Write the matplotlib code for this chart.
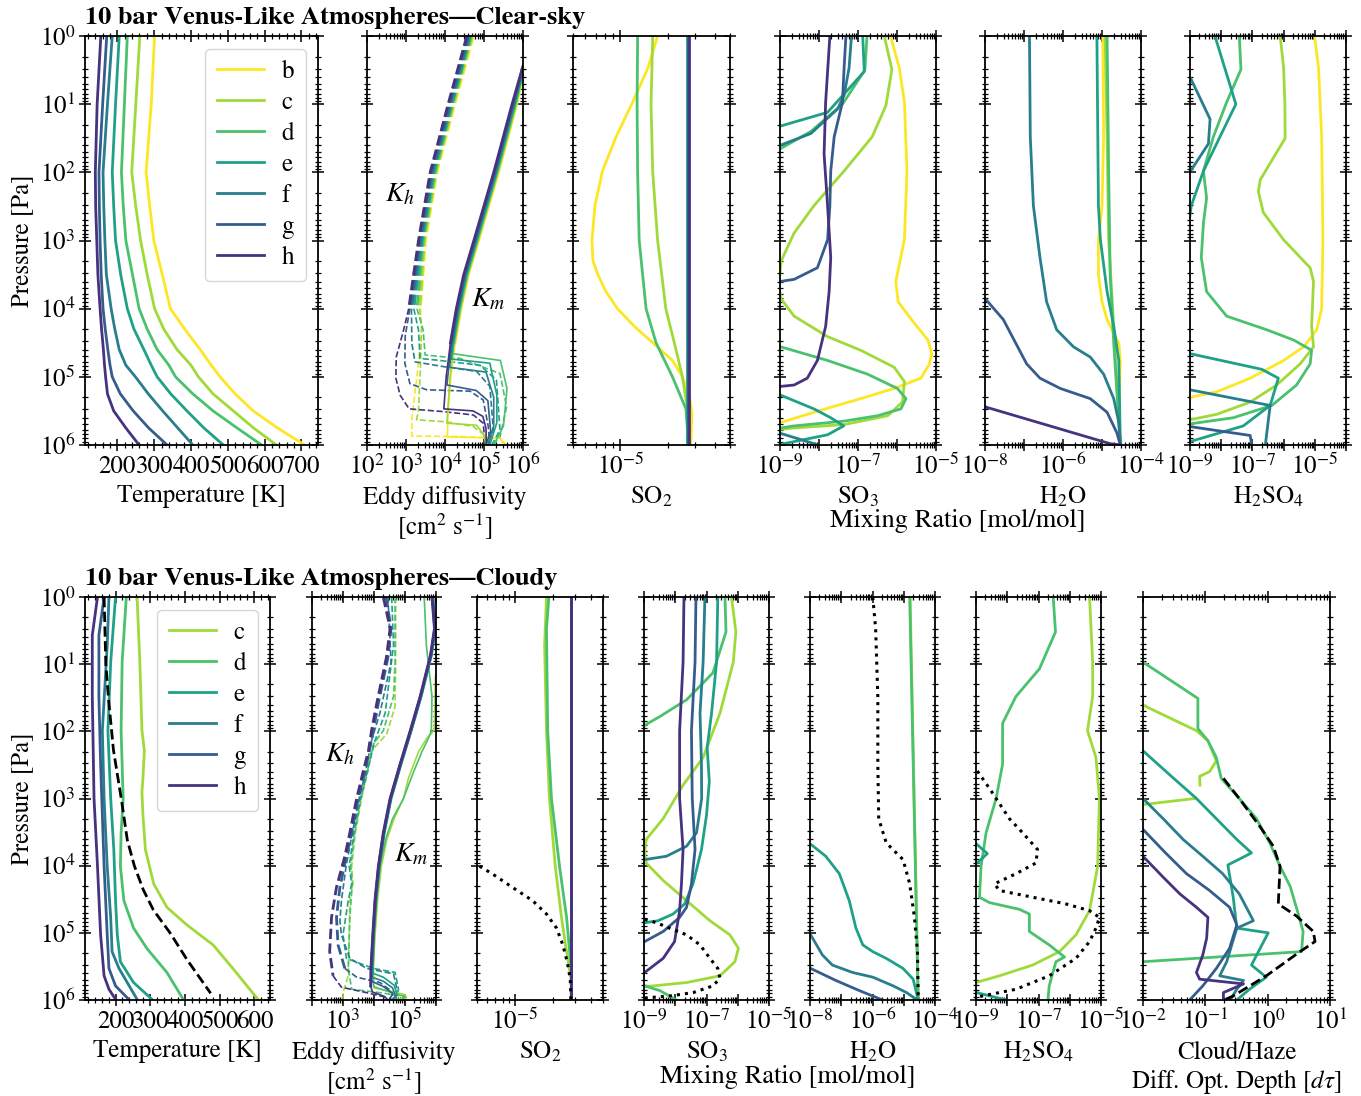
import matplotlib.pyplot as plt
from matplotlib.ticker import AutoMinorLocator, LogLocator, NullFormatter
import numpy as np

plt.rcParams['font.family'] = 'STIXGeneral'
plt.rcParams['mathtext.fontset'] = 'stix'
plt.rcParams['font.size'] = 18

planets = ['b', 'c', 'd', 'e', 'f', 'g', 'h']
vir = plt.cm.viridis(np.linspace(0, 1, 8))
colors = {p: vir[7 - i] for i, p in enumerate(planets)}

# ---------------- Clear-sky data (pressures as log10 P [Pa]) ----------------
temp_lp = [0, 1, 2, 2.5, 3, 3.5, 4, 4.3, 4.6, 4.83, 5, 5.25, 5.5, 5.75, 6]
temp_clear = {
    'b': [301, 292, 278, 288, 299, 322, 344, 383, 425, 455, 479, 520, 569, 635, 709],
    'c': [261, 250, 239, 250, 263, 281, 301, 326, 362, 400, 420, 460, 515, 570, 632],
    'd': [227, 219, 211, 216, 223, 241, 259, 281, 308, 340, 358, 405, 460, 525, 592],
    'e': [205, 195, 186, 190, 195, 209, 227, 245, 272, 292, 308, 345, 389, 435, 488],
    'f': [186, 173, 161, 163, 166, 170, 183, 193, 205, 223, 249, 284, 323, 364, 405],
    'g': [171, 160, 150, 151, 153, 156, 161, 167, 174, 180, 186, 208, 243, 285, 335],
    'h': [155, 145, 140, 141, 144, 147, 153, 157, 162, 165, 168, 173, 190, 223, 259],
}

km_clear_lp = {
    'b': [0, 0.56, 1, 2, 3, 3.5, 4, 4.5, 5, 5.5, 5.88, 5.9, 5.97, 6.0],
    'c': [0, 0.54, 1, 2, 3, 3.5, 4, 4.5, 5, 5.68, 5.71, 5.85, 6.0],
    'd': [0, 0.52, 1, 2, 3, 3.5, 4, 4.5, 4.66, 4.76, 5.17, 5.72, 6.0],
    'e': [0, 0.50, 1, 2, 3, 3.5, 4, 4.5, 4.74, 4.8, 5.27, 5.67, 6.0],
    'f': [0, 0.48, 1, 2, 3, 3.5, 4, 4.5, 4.86, 4.93, 5.3, 5.72, 6.0],
    'g': [0, 0.46, 1, 2, 3, 3.5, 4, 4.5, 5.12, 5.2, 5.35, 5.8, 6.0],
    'h': [0, 0.44, 1, 2, 3, 3.5, 4, 4.5, 5, 5.47, 5.50, 5.58, 5.75, 6.0],
}
km_clear = {  # log10 K [cm2/s]
    'b': [6.47, 6.0, 5.84, 5.37, 4.86, 4.60, 4.41, 4.26, 4.15, 4.08, 4.06, 5.4, 5.5, 5.5],
    'c': [6.45, 6.0, 5.82, 5.35, 4.84, 4.58, 4.39, 4.24, 4.13, 4.05, 4.81, 5.0, 5.05],
    'd': [6.43, 6.0, 5.80, 5.33, 4.82, 4.56, 4.37, 4.22, 4.20, 5.42, 5.59, 5.50, 5.25],
    'e': [6.41, 6.0, 5.78, 5.31, 4.80, 4.54, 4.35, 4.20, 4.17, 5.15, 5.33, 5.33, 5.15],
    'f': [6.39, 6.0, 5.76, 5.29, 4.78, 4.52, 4.33, 4.18, 4.12, 5.05, 5.25, 5.25, 5.1],
    'g': [6.37, 6.0, 5.74, 5.27, 4.76, 4.50, 4.31, 4.16, 4.05, 4.8, 5.1, 5.17, 5.05],
    'h': [6.35, 6.0, 5.72, 5.25, 4.74, 4.48, 4.29, 4.14, 4.03, 3.97, 4.72, 4.97, 5.05, 5.06],
}
kh_clear_lp = {
    'b': [0, 1, 2, 3, 4, 4.31, 5.05, 5.61, 5.87, 5.875, 5.9, 6.0],
    'c': [0, 1, 2, 3, 4, 4.31, 5.0, 5.49, 5.63, 5.66, 5.73, 5.88, 6.0],
    'd': [0, 1, 2, 3, 4, 4.31, 4.68, 4.73, 4.95, 5.44, 5.88, 6.0],
    'e': [0, 1, 2, 3, 4, 4.31, 4.73, 4.76, 4.83, 5.05, 5.78, 6.0],
    'f': [0, 1, 2, 3, 4, 4.51, 4.78, 4.85, 4.92, 5.14, 5.78, 6.0],
    'g': [0, 1, 2, 3, 4, 4.4, 4.8, 5.10, 5.19, 5.21, 5.34, 5.73, 6.0],
    'h': [0, 1, 2, 3, 4, 4.31, 4.71, 5.02, 5.27, 5.47, 5.51, 5.56, 5.68, 6.0],
}
kh_clear = {
    'b': [4.73, 4.25, 3.79, 3.50, 3.37, 3.40, 3.27, 3.15, 3.15, 4.38, 5.41, 5.58],
    'c': [4.70, 4.22, 3.77, 3.47, 3.35, 3.40, 3.36, 3.32, 3.27, 4.04, 4.73, 5.07, 5.11],
    'd': [4.67, 4.19, 3.74, 3.44, 3.28, 3.44, 3.49, 4.38, 5.41, 5.58, 5.41, 5.24],
    'e': [4.65, 4.17, 3.71, 3.41, 3.20, 3.32, 3.36, 3.87, 4.90, 5.32, 5.41, 5.2],
    'f': [4.62, 4.14, 3.68, 3.38, 3.14, 3.15, 3.23, 3.96, 4.81, 5.15, 5.24, 5.1],
    'g': [4.59, 4.11, 3.65, 3.35, 3.10, 2.98, 2.97, 3.10, 3.53, 4.64, 4.98, 5.11, 5.15],
    'h': [4.56, 4.08, 3.62, 3.32, 3.07, 2.94, 2.75, 2.74, 2.85, 3.08, 3.96, 4.73, 4.98, 5.03],
}

so2_clear_lp = {
    'b': [0, .47, .97, 1.48, 1.98, 2.49, 3.0, 3.3, 3.5, 3.75, 4.0, 4.26, 4.5, 4.76, 5.0, 5.27, 5.52, 6],
    'c': [0, 1, 2, 3, 4, 4.5, 5, 5.47, 6],
    'd': [0, 1, 2, 3, 4, 4.5, 5, 5.47, 6],
    'e': [0, 6], 'f': [0, 6], 'g': [0, 6], 'h': [0, 6],
}
so2_clear = {
    'b': [1.73e-5, 1.50e-5, 1.20e-5, 9.4e-6, 7.7e-6, 6.9e-6, 6.6e-6, 6.7e-6, 7.2e-6,
          8.1e-6, 9.6e-6, 1.23e-5, 1.61e-5, 2.15e-5, 2.49e-5, 2.75e-5, 2.86e-5, 2.81e-5],
    'c': [1.61e-5, 1.57e-5, 1.61e-5, 1.73e-5, 1.95e-5, 2.21e-5, 2.49e-5, 2.68e-5, 2.72e-5],
    'd': [1.29e-5, 1.28e-5, 1.29e-5, 1.32e-5, 1.46e-5, 1.69e-5, 2.15e-5, 2.62e-5, 2.72e-5],
    'e': [2.66e-5, 2.66e-5], 'f': [2.7e-5, 2.7e-5], 'g': [2.72e-5, 2.72e-5], 'h': [2.75e-5, 2.75e-5],
}

so3_clear_lp = {
    'b': [0, .47, .97, 1.98, 2.99, 3.60, 3.90, 4.21, 4.46, 4.66, 4.81, 5.02, 5.17, 5.32, 5.52, 5.67, 5.9],
    'c': [0, .49, 1.02, 1.48, 1.98, 2.49, 2.89, 3.3, 3.65, 3.85, 4.11, 4.41, 4.61, 4.86, 5.07,
          5.37, 5.57, 5.70, 5.75, 5.77, 5.85],
    'd': [0, 0.5, 1.0, 1.4, 1.65, 1.75, 4.45, 4.56, 4.76, 4.96, 5.17, 5.32, 5.47, 5.57, 5.65, 5.72, 5.75, 5.8],
    'e': [0, 0.52, 1.12, 1.32, 1.4, 5.2, 5.27, 5.47, 5.6, 5.72, 5.85, 5.95, 6.0],
    'f': [0, .47, .87, 1.07, 1.43, 1.60, 1.7, 5.75, 5.83, 5.98, 6.0],
    'g': [0, .47, .97, 1.48, 1.98, 2.49, 2.99, 3.40, 3.57, 3.60, 3.7],
    'h': [0, .97, 1.73, 2.49, 3.25, 3.75, 4.26, 4.76, 5.02, 5.12, 5.14, 5.2],
}
so3_clear = {
    'b': [6.8e-7, 1.15e-6, 1.55e-6, 1.8e-6, 1.55e-6, 9.3e-7, 1.07e-6, 2.75e-6, 6.2e-6, 7.8e-6,
          6.8e-6, 4.1e-6, 8.5e-7, 1.17e-7, 7.4e-9, 1.05e-9, 1e-10],
    'c': [4.7e-7, 7.4e-7, 5.2e-7, 2.3e-7, 4.4e-8, 7.4e-9, 2.3e-9, 1.07e-9, 9.3e-10, 1.05e-9, 2.3e-9,
          1.66e-8, 1.17e-7, 8.5e-7, 1.55e-6, 1.38e-6, 5.8e-7, 4.4e-8, 2.3e-9, 1.05e-9, 1e-10],
    'd': [1.7e-7, 1.5e-7, 4.0e-8, 6.2e-9, 1.05e-9, 1e-10, 1e-10, 1.05e-9, 1.66e-8, 1.74e-7, 1.02e-6,
          1.7e-6, 1.26e-6, 3.2e-7, 4.4e-8, 2.3e-9, 1.05e-9, 1e-10],
    'e': [1.32e-7, 1.45e-7, 1.66e-8, 1.05e-9, 1e-10, 1e-10, 1.05e-9, 7.4e-9, 2.0e-8, 4.3e-8, 1.66e-8,
          2.3e-9, 8.5e-10],
    'f': [6.8e-8, 5.9e-8, 4.4e-8, 3.0e-8, 6.2e-9, 1.05e-9, 1e-10, 1e-10, 1.05e-9, 7.4e-9, 9.1e-9],
    'g': [4.9e-8, 4.4e-8, 4.0e-8, 2.45e-8, 2.0e-8, 1.9e-8, 1.66e-8, 9.1e-9, 2.3e-9, 1.05e-9, 1e-10],
    'h': [1.9e-8, 1.48e-8, 1.35e-8, 1.66e-8, 2.0e-8, 1.82e-8, 1.48e-8, 9.1e-9, 5.0e-9, 2.3e-9, 1.05e-9, 1e-10],
}

h2o_clear_lp = {
    'b': [0, 1.48, 2.49, 2.99, 3.5, 3.9, 4.16, 4.36, 4.51, 4.76, 5.52, 6.0],
    'c': [0, 1.48, 2.99, 4.26, 6],
    'd': [0, 1.98, 3.5, 4.51, 6],
    'e': [0, 2.49, 2.99, 3.75, 4.26, 4.76, 6.0],
    'f': [0, 1.48, 2.49, 3.25, 3.90, 4.31, 4.56, 4.71, 4.96, 5.32, 5.67, 6.0],
    'g': [3.7, 3.85, 4.16, 4.81, 5.02, 5.17, 5.32, 5.52, 5.82, 6.0],
    'h': [5.2, 5.44, 5.98, 6.0],
}
h2o_clear = {
    'b': [1.05e-5, 1.1e-5, 1.0e-5, 8.1e-6, 8.1e-6, 1.0e-5, 1.35e-5, 2.0e-5, 2.7e-5, 2.95e-5, 2.7e-5, 2.95e-5],
    'c': [1.2e-5, 1.35e-5, 1.48e-5, 2.0e-5, 2.95e-5],
    'd': [1.35e-5, 1.48e-5, 1.62e-5, 2.0e-5, 2.95e-5],
    'e': [7.4e-6, 8.1e-6, 9.1e-6, 1.35e-5, 2.0e-5, 2.7e-5, 2.95e-5],
    'f': [1.38e-7, 1.45e-7, 1.74e-7, 2.57e-7, 3.8e-7, 6.9e-7, 1.86e-6, 5.0e-6, 1.1e-5, 2.0e-5, 2.7e-5, 2.95e-5],
    'g': [1e-9, 1e-8, 2.95e-8, 1.17e-7, 2.57e-7, 8.5e-7, 5.0e-6, 1.35e-5, 2.4e-5, 2.95e-5],
    'h': [1e-9, 1e-8, 1.6e-5, 3.0e-5],
}

h2so4_clear_lp = {
    'b': [0, .47, 1.48, 2.99, 4.0, 4.31, 4.56, 4.76, 5.02, 5.22, 5.30, 5.5],
    'c': [0, .47, 1.0, 1.50, 2.11, 2.28, 2.59, 2.99, 3.40, 3.60, 4.26, 4.56, 4.81, 5.12, 5.37, 5.55, 5.63, 5.8],
    'd': [0, .49, .97, 1.48, 1.98, 2.38, 2.74, 3.25, 3.75, 4.11, 4.31, 4.46, 4.61, 4.81, 5.12, 5.42, 5.6, 5.69, 5.8],
    'e': [0, 1.0, 1.48, 1.98, 2.49, 2.7, 2.8, 4.6, 4.66, 4.89, 5.02, 5.42, 5.72, 5.95, 6.0],
    'f': [0.5, 0.62, 1.22, 1.58, 1.96, 2.1, 5.1, 5.19, 5.42, 6.0],
    'g': [5.6, 5.73, 5.86, 6.0],
}
h2so4_clear = {
    'b': [9.8e-6, 1.32e-5, 1.66e-5, 1.82e-5, 1.66e-5, 1.15e-5, 4.4e-6, 1.0e-6, 8.5e-8, 7.2e-9, 1.0e-9, 1e-10],
    'c': [7.8e-7, 1.0e-6, 1.1e-6, 1.12e-6, 1.78e-7, 1.55e-7, 2.24e-7, 1.0e-6, 7.1e-6, 9.1e-6, 7.9e-6,
          9.1e-6, 3.4e-6, 6.0e-7, 8.5e-8, 7.2e-9, 1.0e-9, 1e-10],
    'd': [3.8e-8, 4.3e-8, 1.5e-8, 5.6e-9, 2.7e-9, 3.4e-9, 2.7e-9, 2.3e-9, 3.4e-9, 1.5e-8, 2.9e-7, 2.1e-6,
          7.9e-6, 7.1e-6, 2.6e-6, 4.2e-7, 2.45e-8, 1.0e-9, 1e-10],
    'e': [6.3e-9, 2.95e-8, 9.1e-9, 2.7e-9, 1.1e-9, 9.5e-10, 1e-10, 1e-10, 1e-9, 2.0e-7, 6.8e-7, 3.7e-7,
          5.1e-8, 1e-9, 3e-10],
    'f': [1e-10, 1.05e-9, 4.4e-9, 3.9e-9, 1.12e-9, 1e-10, 1e-10, 1e-9, 3.7e-7, 2.6e-7],
    'g': [1e-10, 1e-9, 8.5e-8, 9.5e-8],
}

# ---------------- Cloudy data ----------------
temp_cloudy_lp = {
    'c': [0, .97, 1.98, 2.29, 2.70, 2.90, 3.25, 3.76, 4.27, 4.62, 4.88, 5.18, 5.53, 5.99],
    'd': [0, .97, 1.99, 3.0, 3.51, 4.01, 4.52, 4.93, 5.23, 5.59, 5.99],
    'e': [0, .97, 1.99, 3.0, 3.76, 4.52, 5.03, 5.43, 5.74, 5.99],
    'f': [0, .72, 1.99, 3.0, 4.01, 4.77, 5.28, 5.53, 5.99],
    'g': [0, .57, 1.48, 2.49, 4.01, 5.03, 5.53, 5.79, 5.99],
    'h': [0, .57, 1.48, 3.0, 4.01, 5.03, 5.64, 5.84, 5.99],
}
temp_cloudy = {
    'c': [262, 270, 276, 283, 279, 276, 279, 286, 310, 348, 405, 481, 538, 610],
    'd': [231, 219, 216, 222, 216, 214, 224, 252, 290, 348, 395],
    'e': [200, 186, 178, 186, 195, 200, 205, 214, 252, 305],
    'f': [181, 176, 162, 167, 176, 186, 190, 210, 262],
    'g': [167, 152, 152, 157, 167, 176, 181, 200, 238],
    'h': [148, 133, 133, 138, 148, 157, 167, 181, 200],
}
temp_ref_lp = [0, 1.0, 1.53, 2.28, 3.02, 3.62, 4.0, 4.36, 4.66, 5.0, 5.4, 5.9]
temp_ref = [167, 172, 180, 194, 217, 234, 254, 280, 309, 357, 406, 474]

km_cloudy_lp = {
    'c': [0, 1.0, 1.17, 1.98, 2.1, 2.3, 2.7, 3.0, 3.3, 3.6, 4.0, 4.5, 5.0, 5.5, 5.82, 5.92, 5.97, 6.0],
    'd': [0, .72, 1.48, 1.99, 2.1, 2.3, 2.6, 3.0, 3.3, 3.6, 4.0, 4.5, 5.0, 5.5, 5.8, 5.88, 5.95, 6.0],
    'e': [0, .47, .87, 1.48, 1.99, 2.49, 3.0, 3.51, 4.01, 4.52, 5.03, 5.6, 5.66, 5.78, 5.92, 6.0],
    'f': [0, .47, .87, 1.48, 1.99, 2.49, 3.0, 3.51, 4.01, 4.52, 5.03, 5.53, 5.66, 5.72, 5.82, 5.95, 6.0],
    'g': [0, .47, .87, 1.48, 1.99, 2.49, 3.0, 3.51, 4.01, 4.52, 5.03, 5.53, 5.72, 5.80, 5.9, 6.0],
    'h': [0, .47, .87, 1.48, 1.99, 2.49, 3.0, 3.51, 4.01, 4.52, 5.03, 5.53, 5.79, 5.88, 5.95, 6.0],
}
km_cloudy = {
    'c': [6.3, 6.2, 5.98, 5.95, 5.71, 5.44, 5.11, 4.95, 4.65, 4.42, 4.24, 4.12, 4.04, 3.98, 4.0, 5.0, 5.05, 4.6],
    'd': [5.62, 5.69, 5.87, 5.85, 5.76, 5.55, 5.28, 4.95, 4.60, 4.38, 4.20, 4.08, 4.0, 3.95, 3.98, 4.5, 5.0, 4.9],
    'e': [5.90, 5.98, 5.85, 5.52, 5.20, 4.87, 4.55, 4.33, 4.17, 4.06, 3.99, 3.95, 4.3, 4.65, 4.75, 4.6],
    'f': [5.89, 5.97, 5.84, 5.51, 5.19, 4.86, 4.54, 4.32, 4.16, 4.05, 3.98, 3.92, 3.93, 4.3, 4.6, 4.7, 4.55],
    'g': [5.88, 5.96, 5.83, 5.50, 5.18, 4.85, 4.53, 4.31, 4.15, 4.04, 3.97, 3.91, 3.92, 4.3, 4.6, 4.5],
    'h': [5.87, 5.95, 5.82, 5.49, 5.17, 4.84, 4.52, 4.30, 4.14, 4.03, 3.96, 3.90, 3.89, 3.95, 4.35, 4.45],
}
kh_cloudy_lp = {
    'c': [0, 1.0, 1.63, 2.04, 2.29, 2.6, 3.0, 3.51, 4.01, 4.27, 4.52, 5.03, 5.64, 5.89, 6.0],
    'd': [0, .97, 1.48, 1.99, 2.19, 2.6, 3.0, 3.51, 4.01, 4.27, 4.77, 5.53, 5.84, 5.89, 5.95, 6.0],
    'e': [0, .72, 1.73, 2.14, 2.6, 3.0, 3.51, 4.01, 4.27, 4.52, 5.03, 5.38, 5.53, 5.59, 5.84, 6.0],
    'f': [0, .97, 1.73, 2.14, 2.6, 3.0, 3.51, 4.01, 4.52, 4.82, 5.03, 5.38, 5.53, 5.61, 5.84, 6.0],
    'g': [0, .47, .9, 1.58, 1.99, 2.6, 3.0, 3.51, 3.86, 4.32, 4.77, 5.18, 5.53, 5.66, 5.74, 5.89, 6.0],
    'h': [0, .47, .9, 1.58, 1.99, 2.29, 2.6, 3.0, 3.51, 3.86, 4.32, 4.77, 5.28, 5.64, 5.81, 5.89, 5.95, 6.0],
}
kh_cloudy = {
    'c': [4.70, 4.70, 4.68, 4.41, 3.92, 3.78, 3.60, 3.40, 3.28, 3.32, 3.22, 3.20, 3.17, 3.0, 3.0],
    'd': [4.68, 4.68, 4.63, 4.30, 3.98, 3.80, 3.58, 3.38, 3.25, 3.30, 3.22, 3.17, 3.28, 4.19, 5.0, 4.84],
    'e': [4.57, 4.63, 4.36, 4.03, 3.78, 3.56, 3.35, 3.20, 3.28, 3.17, 3.0, 3.11, 3.98, 4.68, 4.79, 4.68],
    'f': [4.45, 4.55, 4.19, 3.92, 3.73, 3.52, 3.30, 3.10, 2.95, 2.90, 2.95, 3.22, 3.76, 4.63, 4.74, 4.63],
    'g': [4.39, 4.55, 4.45, 4.14, 3.98, 3.71, 3.49, 3.28, 3.11, 2.90, 2.79, 2.84, 3.06, 3.44, 4.19, 4.63, 4.52],
    'h': [4.30, 4.52, 4.40, 4.09, 3.92, 3.82, 3.65, 3.44, 3.22, 3.06, 2.79, 2.63, 2.57, 2.68, 2.95, 3.76, 4.30, 4.41],
}

so2_cloudy_lp = {
    'c': [0, .72, 1.99, 3.0, 4.01, 4.77, 5.28, 5.69, 6.0],
    'd': [0, .47, 1.99, 3.0, 4.01, 4.77, 5.28, 5.53, 6.0],
    'e': [0, 6], 'f': [0, 6], 'g': [0, 6], 'h': [0, 6],
}
so2_cloudy = {
    'c': [1.78e-5, 1.72e-5, 1.78e-5, 1.88e-5, 2.09e-5, 2.34e-5, 2.57e-5, 2.79e-5, 2.8e-5],
    'd': [1.86e-5, 1.78e-5, 1.82e-5, 1.95e-5, 2.26e-5, 2.57e-5, 2.72e-5, 2.8e-5, 2.8e-5],
    'e': [2.8e-5, 2.8e-5], 'f': [2.8e-5, 2.8e-5], 'g': [2.8e-5, 2.8e-5], 'h': [2.8e-5, 2.8e-5],
}
so2_ref_lp = [3.95, 4.0, 4.12, 4.32, 4.52, 4.72, 4.93, 5.18, 5.43, 5.69, 6.0]
so2_ref = [4.6e-6, 5.15e-6, 6.6e-6, 9.5e-6, 1.38e-5, 1.78e-5, 2.14e-5, 2.4e-5, 2.6e-5, 2.75e-5, 2.78e-5]

so3_cloudy_lp = {
    'c': [0, .52, .97, 1.73, 2.39, 2.80, 3.30, 3.61, 3.81, 3.96, 4.22, 4.52, 4.82, 5.03, 5.23, 5.43,
          5.64, 5.74, 5.79, 5.80, 5.85],
    'd': [0, .52, 1.13, 1.53, 1.78, 1.91, 2.0, 5.75, 5.79, 5.86, 6.0],
    'e': [0, .97, 1.73, 2.24, 2.75, 3.25, 3.76, 4.27, 4.57, 4.72, 4.82, 4.85, 4.95],
    'f': [0, .97, 1.73, 2.49, 3.0, 3.51, 3.71, 3.86, 3.91, 4.0],
    'g': [0, .97, 1.99, 3.0, 3.76, 4.27, 4.62, 4.77, 4.98, 5.13, 5.25],
    'h': [0, .97, 1.99, 3.0, 3.76, 4.27, 4.67, 5.13, 5.38, 5.59, 5.8],
}
so3_cloudy = {
    'c': [6.3e-7, 8.7e-7, 7.2e-7, 2.7e-7, 7.8e-8, 1.78e-8, 4.1e-9, 1.17e-9, 1.05e-9, 1.17e-9, 4.1e-9,
          2.3e-8, 1.29e-7, 5.6e-7, 1.05e-6, 8.1e-7, 2.7e-7, 2.3e-8, 1.95e-9, 1.05e-9, 1e-10],
    'd': [3.9e-7, 4.2e-7, 1.6e-7, 2.3e-8, 3.2e-9, 1.05e-9, 1e-10, 1e-10, 1.05e-9, 3.2e-9, 1.1e-8],
    'e': [2.3e-7, 2.1e-7, 1.45e-7, 1.05e-7, 1.23e-7, 1.0e-7, 6.9e-8, 3.7e-8, 2.0e-8, 8.5e-9, 2.8e-9, 1.05e-9, 1e-10],
    'f': [8.9e-8, 7.8e-8, 6.2e-8, 6.9e-8, 7.0e-8, 4.8e-8, 2.3e-8, 5.2e-9, 1.05e-9, 1e-10],
    'g': [4.6e-8, 4.3e-8, 3.3e-8, 3.5e-8, 4.3e-8, 3.3e-8, 2.3e-8, 1.38e-8, 4.1e-9, 1.05e-9, 1e-10],
    'h': [1.9e-8, 1.78e-8, 1.38e-8, 1.38e-8, 1.78e-8, 1.58e-8, 1.38e-8, 9.5e-9, 4.1e-9, 1.05e-9, 1e-10],
}
so3_ref_lp = [4.80, 4.85, 4.93, 5.03, 5.18, 5.38, 5.53, 5.68, 5.79, 5.89, 5.94, 5.97]
so3_ref = [1.05e-9, 2.5e-9, 6.6e-9, 2.3e-8, 6.2e-8, 1.29e-7, 2.3e-7, 2.7e-7, 1.6e-7, 3.7e-8, 6.6e-9, 1.05e-9]

h2o_cloudy_lp = {
    'c': [0, 6], 'd': [0, 6],
    'e': [3.6, 3.68, 3.86, 4.12, 4.52, 4.93, 5.18, 5.28, 5.38, 5.53, 5.69, 6.0],
    'f': [4.95, 5.03, 5.33, 5.48, 5.59, 5.66, 5.79, 5.89, 5.97, 6.0],
    'g': [5.45, 5.53, 5.71, 5.86, 6.0],
    'h': [5.9, 6.0],
}
h2o_cloudy = {
    'c': [1.6e-5, 2.9e-5], 'd': [1.55e-5, 2.9e-5],
    'e': [1e-9, 1.05e-8, 3.2e-8, 8.7e-8, 1.8e-7, 2.95e-7, 4.9e-7, 1.02e-6, 2.75e-6, 9.5e-6, 2.0e-5, 2.9e-5],
    'f': [1e-9, 1.05e-8, 2.5e-8, 5.2e-8, 2.3e-7, 1.02e-6, 4.6e-6, 1.23e-5, 2.2e-5, 2.9e-5],
    'g': [1e-9, 1.05e-8, 6.8e-8, 3.8e-7, 2.1e-6],
    'h': [1e-9, 1.1e-8],
}
h2o_ref_lp = [0, .47, 1.48, 2.49, 3.3, 3.66, 3.91, 4.27, 4.77, 5.28, 6.0]
h2o_ref = [1.02e-6, 1.26e-6, 1.48e-6, 1.48e-6, 1.58e-6, 2.75e-6, 9.5e-6, 1.55e-5, 2.2e-5, 2.75e-5, 2.9e-5]

h2so4_cloudy_lp = {
    'c': [0, .97, 1.48, 1.99, 2.39, 3.0, 4.01, 4.67, 5.03, 5.28, 5.48, 5.64, 5.74, 5.85],
    'd': [0, .52, 1.07, 1.48, 1.88, 2.49, 3.0, 3.51, 4.01, 4.47, 4.55, 4.65, 4.72, 4.98, 5.18, 5.36,
          5.43, 5.79, 6.0],
    'e': [3.6, 3.68, 3.82, 3.96, 4.05, 5.85, 5.89, 6.0],
}
h2so4_cloudy = {
    'c': [4.3e-6, 5.4e-6, 5.4e-6, 3.7e-6, 6.9e-6, 8.9e-6, 7.8e-6, 4.3e-6, 1.58e-6, 4.7e-7, 6.5e-8,
          5.6e-9, 1.0e-9, 1e-10],
    'd': [2.95e-7, 3.5e-7, 1.07e-7, 1.9e-8, 7.1e-9, 7.1e-9, 4.4e-9, 2.1e-9, 1.45e-9, 1.29e-9, 2.7e-9,
          2.45e-8, 5.1e-8, 5.1e-8, 2.2e-7, 6.8e-7, 3.6e-7, 2.2e-7, 2.0e-7],
    'e': [1e-10, 1.05e-9, 2.3e-9, 1.1e-9, 1e-10, 1e-10, 1.05e-9, 9.1e-9],
}
h2so4_ref_lp = [2.59, 2.85, 3.30, 3.51, 3.76, 3.96, 4.12, 4.27, 4.37, 4.47, 4.57, 4.67, 4.77, 4.93,
                5.13, 5.38, 5.64, 5.84, 5.94, 5.97]
h2so4_ref = [1.1e-9, 2.7e-9, 1.17e-8, 3.1e-8, 9.3e-8, 8.3e-8, 1.9e-8, 3.9e-9, 5.6e-9, 6.5e-8, 7.6e-7,
             4.3e-6, 8.9e-6, 6.9e-6, 4.3e-6, 1.58e-6, 2.2e-7, 1.9e-8, 1.6e-9, 1.0e-9]

cloud_lp = {
    'c': [1.5, 1.61, 1.99, 2.14, 2.44, 2.60, 2.67, 2.80, np.nan, 3.0, 3.09, 3.2],
    'd': [0.9, 0.97, 1.51, 1.96, 2.14, 2.39, 2.70, 3.0, 3.30, 3.66, 4.01, 4.31, 4.72, 4.98, 5.28, 5.43, 5.5],
    'e': [2.2, 2.29, 2.65, 3.0, 3.30, 3.61, 3.81, 3.99, 4.47, 4.93, 5.0, 5.48, 5.66, 5.84, 6.0],
    'f': [2.9, 3.0, 3.30, 3.61, 3.86, 4.12, 4.42, 4.82, 4.93, 5.43, 5.64, 5.71, 5.84, 6.0],
    'g': [3.4, 3.46, 3.81, 4.12, 4.37, 4.62, 4.88, 5.23, 5.53, 5.79, 6.0],
    'h': [3.8, 3.86, 4.17, 4.42, 4.62, 4.77, 5.08, 5.33, 5.59, 5.69, 5.76, 5.89, 6.0],
}
cloud_dtau = {
    'c': [5e-3, 1e-2, 0.072, 0.11, 0.15, 0.117, 0.081, 0.082, np.nan, 0.068, 1e-2, 5e-3],
    'd': [5e-3, 1e-2, 0.076, 0.076, 0.11, 0.15, 0.18, 0.35, 0.66, 1.08, 1.58, 2.3, 3.1, 3.7, 3.5, 1e-2, 5e-3],
    'e': [5e-3, 1e-2, 0.027, 0.072, 0.15, 0.32, 0.55, 0.23, 0.28, 0.32, 1.02, 0.55, 0.95, 0.51, 0.32],
    'f': [5e-3, 1e-2, 0.021, 0.044, 0.091, 0.19, 0.35, 0.59, 0.32, 0.22, 0.17, 0.41, 0.32, 0.25],
    'g': [5e-3, 1e-2, 0.023, 0.05, 0.117, 0.245, 0.32, 0.245, 0.15, 0.091, 0.056],
    'h': [5e-3, 1e-2, 0.021, 0.039, 0.072, 0.11, 0.105, 0.091, 0.072, 0.081, 0.41, 0.195, 0.195],
}
cloud_ref_lp = [2.70, 3.0, 3.41, 3.71, 4.01, 4.57, 4.75, 4.98, 5.13, 5.28, 5.64, 5.94, 6.0]
cloud_ref = [0.195, 0.35, 0.74, 1.23, 1.58, 1.48, 2.9, 5.4, 5.75, 3.3, 0.95, 0.28, 0.2]


# ---------------- layout (pixel boxes) ----------------
W, H = 1361, 1096
fig = plt.figure(figsize=(W / 100, H / 100), dpi=100)


def add_ax(x0, x1, y0, y1):
    return fig.add_axes([x0 / W, 1 - y1 / H, (x1 - x0) / W, (y1 - y0) / H])


def style(ax, first=False):
    ax.set_yscale('log')
    ax.set_ylim(1e6, 1e0)
    ax.set_yticks([10.0 ** k for k in range(7)])
    ax.yaxis.set_minor_locator(LogLocator(subs=np.arange(2, 10), numticks=20))
    ax.yaxis.set_minor_formatter(NullFormatter())
    if first:
        ax.set_yticklabels([f'$10^{{{k}}}$' for k in range(7)])
        ax.set_ylabel('Pressure [Pa]', labelpad=4)
    else:
        ax.set_yticklabels([])
    ax.tick_params(which='both', direction='inout', top=True, right=True, labelsize=18, pad=3)
    ax.tick_params(which='major', length=8, width=1.1)
    ax.tick_params(which='minor', length=4, width=0.9)
    for s in ax.spines.values():
        s.set_linewidth(1.3)


def logx(ax, lo, hi, decs, labeled):
    ax.set_xscale('log')
    ax.set_xlim(lo, hi)
    ax.set_xticks([10.0 ** d for d in decs])
    ax.set_xticklabels([f'$10^{{{d}}}$' if d in labeled else '' for d in decs])
    ax.xaxis.set_minor_locator(LogLocator(subs=np.arange(2, 10), numticks=30))
    ax.xaxis.set_minor_formatter(NullFormatter())


def draw(ax, lp, vals, **kw):
    for p in planets:
        if p not in lp:
            continue
        ax.plot(vals[p], 10 ** np.array(lp[p], dtype=float), color=colors[p], **kw)


def draw_eddy(ax, lp, vals, ls, thick_until, thick=2.0, thin=1.2):
    # thick line in the upper (radiative) part, thin below
    for p in planets:
        if p not in lp:
            continue
        y = np.array(lp[p], dtype=float)
        x = 10 ** np.array(vals[p], dtype=float)
        limit = thick_until[p] if isinstance(thick_until, dict) else thick_until
        k = int(np.sum(y <= limit))
        if k > 0:
            ax.plot(x[:k], 10 ** y[:k], color=colors[p], ls=ls, lw=thick)
        if k < len(y):
            j = max(k - 1, 0)
            ax.plot(x[j:], 10 ** y[j:], color=colors[p], ls=ls, lw=thin)


lw = 2.0
leg_kw = dict(loc='upper right', fontsize=18, handlelength=1.9, handletextpad=0.7,
              labelspacing=0.28, borderpad=0.45)

# ================= Clear-sky row =================
top = [(85, 318), (367, 523), (573, 730), (780, 936), (985, 1141), (1190, 1346)]
axs = [add_ax(a, b, 36, 445) for a, b in top]

ax = axs[0]
style(ax, first=True)
for p in planets:
    ax.plot(temp_clear[p], 10 ** np.array(temp_lp, dtype=float), color=colors[p], lw=lw, label=p)
ax.set_xlim(112, 745)
ax.set_xticks([200, 300, 400, 500, 600, 700])
ax.xaxis.set_minor_locator(AutoMinorLocator())
ax.set_xlabel('Temperature [K]')
ax.legend(**leg_kw)

ax = axs[1]
style(ax)
draw_eddy(ax, kh_clear_lp, kh_clear, '--', 4.3)
draw_eddy(ax, km_clear_lp, km_clear, '-', 4.5)
logx(ax, 1e2, 1e6, [2, 3, 4, 5, 6], [2, 3, 4, 5, 6])
ax.set_xlabel('Eddy diffusivity\n[cm$^2$ s$^{-1}$]', linespacing=1.1)
ax.text(10 ** 2.85, 10 ** 2.33, '$K_h$', fontsize=20, ha='center', va='center')
ax.text(10 ** 5.1, 10 ** 3.87, '$K_m$', fontsize=20, ha='center', va='center')

ax = axs[2]
style(ax)
draw(ax, so2_clear_lp, so2_clear, lw=lw)
logx(ax, 5e-6, 5e-5, [-5], [-5])
ax.set_xlabel('SO$_2$')

ax = axs[3]
style(ax)
draw(ax, so3_clear_lp, so3_clear, lw=lw)
logx(ax, 1e-9, 1e-5, [-9, -8, -7, -6, -5], [-9, -7, -5])
ax.set_xlabel('SO$_3$')

ax = axs[4]
style(ax)
draw(ax, h2o_clear_lp, h2o_clear, lw=lw)
logx(ax, 1e-8, 1e-4, [-8, -7, -6, -5, -4], [-8, -6, -4])
ax.set_xlabel('H$_2$O')

ax = axs[5]
style(ax)
draw(ax, h2so4_clear_lp, h2so4_clear, lw=lw)
logx(ax, 1e-9, 1e-4, [-9, -8, -7, -6, -5, -4], [-9, -7, -5])
ax.set_xlabel('H$_2$SO$_4$')

fig.text(85 / W, 1 - 18 / H, '10 bar Venus-Like Atmospheres\u2014Clear-sky',
         fontsize=19, fontweight='bold', ha='left', va='center')
fig.text(958 / W, 1 - 521 / H, 'Mixing Ratio [mol/mol]', fontsize=19, ha='center', va='center')

# ================= Cloudy row =================
bot = [(85, 270), (312, 436), (477, 603), (644, 769), (810, 935), (976, 1101), (1143, 1330)]
bxs = [add_ax(a, b, 597, 1000) for a, b in bot]

ax = bxs[0]
style(ax, first=True)
for p in planets[1:]:
    ax.plot(temp_cloudy[p], 10 ** np.array(temp_cloudy_lp[p], dtype=float), color=colors[p], lw=lw, label=p)
ax.plot(temp_ref, 10 ** np.array(temp_ref_lp), color='k', ls='--', lw=lw)
ax.set_xlim(112, 645)
ax.set_xticks([200, 300, 400, 500, 600])
ax.xaxis.set_minor_locator(AutoMinorLocator())
ax.set_xlabel('Temperature [K]')
ax.legend(**leg_kw)

ax = bxs[1]
style(ax)
draw_eddy(ax, kh_cloudy_lp, kh_cloudy, '--',
          {'c': -1, 'd': -1, 'e': -1, 'f': -1, 'g': 5.6, 'h': 5.7})
draw_eddy(ax, km_cloudy_lp, km_cloudy, '-',
          {'c': -1, 'd': -1, 'e': 5.6, 'f': 5.6, 'g': 5.6, 'h': 5.8})
logx(ax, 1e2, 1e6, [2, 3, 4, 5, 6], [3, 5])
ax.set_xlabel('Eddy diffusivity\n[cm$^2$ s$^{-1}$]', linespacing=1.1)
ax.text(10 ** 2.9, 10 ** 2.35, '$K_h$', fontsize=20, ha='center', va='center')
ax.text(10 ** 5.19, 10 ** 3.84, '$K_m$', fontsize=20, ha='center', va='center')

ax = bxs[2]
style(ax)
draw(ax, so2_cloudy_lp, so2_cloudy, lw=lw)
ax.plot(so2_ref, 10 ** np.array(so2_ref_lp), color='k', ls=':', lw=2.2)
logx(ax, 5e-6, 5e-5, [-5], [-5])
ax.set_xlabel('SO$_2$')

ax = bxs[3]
style(ax)
draw(ax, so3_cloudy_lp, so3_cloudy, lw=lw)
ax.plot(so3_ref, 10 ** np.array(so3_ref_lp), color='k', ls=':', lw=2.2)
logx(ax, 1e-9, 1e-5, [-9, -8, -7, -6, -5], [-9, -7, -5])
ax.set_xlabel('SO$_3$')

ax = bxs[4]
style(ax)
draw(ax, h2o_cloudy_lp, h2o_cloudy, lw=lw)
ax.plot(h2o_ref, 10 ** np.array(h2o_ref_lp), color='k', ls=':', lw=2.2)
logx(ax, 1e-8, 1e-4, [-8, -7, -6, -5, -4], [-8, -6, -4])
ax.set_xlabel('H$_2$O')

ax = bxs[5]
style(ax)
draw(ax, h2so4_cloudy_lp, h2so4_cloudy, lw=lw)
ax.plot(h2so4_ref, 10 ** np.array(h2so4_ref_lp), color='k', ls=':', lw=2.2)
logx(ax, 1e-9, 1e-5, [-9, -8, -7, -6, -5], [-9, -7, -5])
ax.set_xlabel('H$_2$SO$_4$')

ax = bxs[6]
style(ax)
draw(ax, cloud_lp, cloud_dtau, lw=lw)
ax.plot(cloud_ref, 10 ** np.array(cloud_ref_lp), color='k', ls='--', lw=lw)
logx(ax, 1e-2, 1e1, [-2, -1, 0, 1], [-2, -1, 0, 1])
ax.set_xlabel('Cloud/Haze\nDiff. Opt. Depth [$d\\tau$]', linespacing=1.1)

fig.text(85 / W, 1 - 579 / H, '10 bar Venus-Like Atmospheres\u2014Cloudy',
         fontsize=19, fontweight='bold', ha='left', va='center')
fig.text(788 / W, 1 - 1077 / H, 'Mixing Ratio [mol/mol]', fontsize=19, ha='center', va='center')

fig.savefig('out.png', dpi=100)
